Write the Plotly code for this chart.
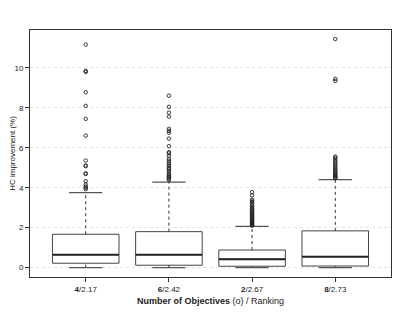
import plotly.graph_objects as go

categories = ["<b>4</b>/2.17", "<b>6</b>/2.42", "<b>2</b>/2.67", "<b>8</b>/2.73"]
positions = [1, 2, 3, 4]
q1 = [0.22, 0.12, 0.07, 0.08]
median = [0.65, 0.65, 0.42, 0.55]
q3 = [1.67, 1.80, 0.88, 1.84]
lower_whisker = [0.0, 0.0, 0.0, 0.0]
upper_whisker = [3.76, 4.28, 2.07, 4.41]
outliers = [
    [3.93, 4.0, 4.06, 4.16, 4.33, 4.69, 4.72, 5.08, 5.11, 5.36, 6.61, 7.45, 8.1, 8.78, 9.8, 9.85, 11.17],
    [4.39, 4.45, 4.51, 4.56, 4.61, 4.68, 4.76, 4.85, 4.93, 5.0, 5.09, 5.17, 5.26, 5.35, 5.44, 5.6,
     5.72, 5.78, 6.08, 6.46, 6.76, 6.85, 6.95, 7.56, 7.76, 8.05, 8.61],
    [2.10, 2.13, 2.16, 2.2, 2.24, 2.28, 2.32, 2.36, 2.4, 2.45, 2.5, 2.55, 2.6, 2.65, 2.7, 2.75,
     2.8, 2.86, 2.92, 2.98, 3.05, 3.12, 3.2, 3.28, 3.35, 3.4, 3.62, 3.78],
    [4.48, 4.52, 4.56, 4.6, 4.65, 4.7, 4.76, 4.82, 4.88, 4.95, 5.02, 5.1, 5.18, 5.26, 5.34, 5.42,
     5.5, 5.56, 9.35, 9.45, 11.45],
]
y_ticks = [0, 2, 4, 6, 8, 10]

BOX_W = 0.8
CAP_W = 0.4
DARK = "#333333"
FONT = "Liberation Sans, Arial, Helvetica, sans-serif"

fig = go.Figure()

for i, p in enumerate(positions):
    for a, b in [(q3[i], upper_whisker[i]), (lower_whisker[i], q1[i])]:
        fig.add_trace(go.Scatter(x=[p, p], y=[a, b], mode="lines",
                                 line=dict(color=DARK, width=1, dash="dot"),
                                 hoverinfo="skip", showlegend=False))
    for v in (upper_whisker[i], lower_whisker[i]):
        fig.add_trace(go.Scatter(x=[p - CAP_W / 2, p + CAP_W / 2], y=[v, v], mode="lines",
                                 line=dict(color="#555555", width=1.2),
                                 hoverinfo="skip", showlegend=False))
    fig.add_trace(go.Box(x=[p], q1=[q1[i]], median=[median[i]], q3=[q3[i]],
                         lowerfence=[q1[i]], upperfence=[q3[i]],
                         width=BOX_W, whiskerwidth=0,
                         fillcolor="white", line=dict(color="#444444", width=1),
                         boxpoints=False, hoverinfo="skip", showlegend=False))
    fig.add_trace(go.Scatter(x=[p - BOX_W / 2, p + BOX_W / 2], y=[median[i], median[i]], mode="lines",
                             line=dict(color="#222222", width=2),
                             hoverinfo="skip", showlegend=False))
    fig.add_trace(go.Scatter(x=[p] * len(outliers[i]), y=outliers[i], mode="markers",
                             marker=dict(symbol="circle-open", size=3.5, color="#222222",
                                         line=dict(width=0.9, color="#222222")),
                             hoverinfo="skip", showlegend=False))

# page has an 8px body margin, so the figure is sized/offset accordingly
fig.update_layout(
    width=391, height=299,
    margin=dict(l=22, r=8, t=22, b=30),
    paper_bgcolor="white", plot_bgcolor="white",
    font=dict(family=FONT, size=8, color="#222222"),
    xaxis=dict(range=[0.33, 4.67], tickmode="array", tickvals=positions, ticktext=categories,
               showgrid=False, zeroline=False, showline=True, mirror=True, automargin=False,
               linecolor=DARK, linewidth=1, ticks="outside", ticklen=4, tickcolor=DARK,
               tickfont=dict(size=8),
               title=dict(text="<b>Number of Objectives</b> (ο) / Ranking",
                          font=dict(size=9), standoff=5)),
    yaxis=dict(range=[-0.47, 11.9], tickmode="array", tickvals=y_ticks,
               showgrid=True, gridcolor="#e4e4e4", griddash="dot", gridwidth=1,
               zeroline=False, showline=True, mirror=True, automargin=False,
               linecolor=DARK, linewidth=1, ticks="outside", ticklen=4, tickcolor=DARK,
               tickfont=dict(size=8),
               title=dict(text="HC improvement (%)", font=dict(size=8), standoff=3)),
)

fig.write_html("out.html")
